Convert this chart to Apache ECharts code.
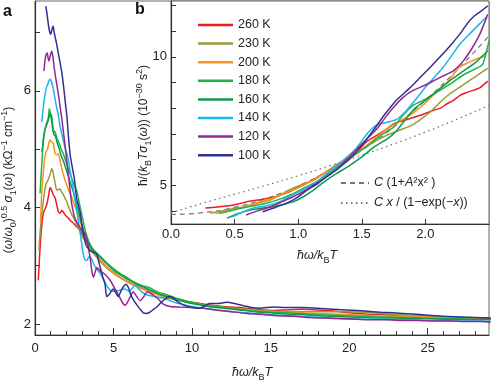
<!DOCTYPE html>
<html>
<head>
<meta charset="utf-8">
<script src="https://cdn.jsdelivr.net/npm/echarts@6/dist/echarts.min.js"></script>
<style>
  html, body { margin: 0; padding: 0; background: #fff; }
  #chart { width: 499px; height: 382px; }
</style>
</head>
<body>
<div id="chart"></div>
<script>
// legend names and colours
var temps = ["260 K", "230 K", "200 K", "180 K", "160 K", "140 K", "120 K", "100 K"];
var colors = ["#ed1c24", "#9c9a36", "#f7941d", "#22b24c", "#0f9a4a", "#1cb5ec", "#93278f", "#2e3192"];

// panel a : (w/w0)^0.5 sigma1 vs hw/kT
var a260 = [[0.21,2.75],[0.3,3.2],[0.4,3.6],[0.53,3.9],[0.65,3.98],[0.75,4.05],[0.85,4.18],[0.96,4.34],[1.05,4.3],[1.15,4.22],[1.27,4.17],[1.38,4.05],[1.48,3.93],[1.59,3.9],[1.7,3.95],[1.8,3.92],[1.95,3.86],[2.1,3.82],[2.23,3.78],[2.4,3.74],[2.6,3.68],[2.87,3.61],[3.1,3.5],[3.3,3.4],[3.5,3.32],[3.8,3.2],[4.1,3.1],[4.5,2.98],[5,2.87],[5.5,2.78],[6,2.71],[6.5,2.65],[7,2.59],[7.5,2.54],[8,2.5],[9,2.43],[10,2.37],[11,2.33],[12,2.3],[13,2.28],[14,2.25],[15,2.23],[16,2.24],[17,2.25],[18,2.24],[19,2.22],[20,2.19],[21,2.17],[22,2.16],[23,2.15],[24,2.14],[25,2.13],[26,2.12],[27,2.11],[28,2.1],[29,2.09]];
var a230 = [[0.25,3.26],[0.32,3.55],[0.4,3.8],[0.5,4.05],[0.6,4.25],[0.7,4.4],[0.8,4.45],[0.9,4.52],[1,4.6],[1.06,4.66],[1.15,4.6],[1.27,4.43],[1.38,4.3],[1.48,4.3],[1.59,4.32],[1.7,4.26],[1.8,4.22],[1.92,4.15],[2.02,4.1],[2.15,4],[2.3,3.9],[2.5,3.8],[2.7,3.68],[2.9,3.56],[3.1,3.46],[3.4,3.35],[3.7,3.22],[4,3.12],[4.5,2.98],[5,2.87],[5.5,2.78],[6,2.71],[6.5,2.64],[7,2.59],[7.5,2.54],[8,2.5],[9,2.42],[10,2.36],[11,2.32],[12,2.29],[13,2.26],[14,2.24],[15,2.22],[16,2.21],[17,2.21],[18,2.21],[19,2.21],[20,2.21],[21,2.2],[22,2.18],[23,2.16],[24,2.14],[25,2.13],[26,2.12],[27,2.11],[28,2.1],[29,2.1]];
var a200 = [[0.35,3.75],[0.42,4.2],[0.5,4.5],[0.6,4.8],[0.7,4.95],[0.8,5],[0.9,5.12],[0.96,5.16],[1.05,5.12],[1.17,5.09],[1.27,4.93],[1.38,4.9],[1.49,4.92],[1.6,4.8],[1.7,4.67],[1.85,4.52],[2.02,4.38],[2.18,4.27],[2.33,4.18],[2.5,4.05],[2.65,3.95],[2.85,3.78],[3.05,3.6],[3.3,3.45],[3.6,3.3],[4,3.15],[4.5,3],[5,2.88],[5.5,2.78],[6,2.7],[6.5,2.64],[7,2.58],[7.5,2.53],[8,2.48],[9,2.41],[10,2.36],[11,2.31],[12,2.28],[13,2.26],[14,2.23],[15,2.21],[16,2.2],[17,2.19],[18,2.18],[19,2.17],[20,2.16],[21,2.15],[22,2.14],[23,2.13],[24,2.13],[25,2.12],[26,2.11],[27,2.11],[28,2.1],[29,2.1]];
var a180 = [[0.32,4.24],[0.4,4.6],[0.53,5.15],[0.65,5.35],[0.75,5.45],[0.85,5.54],[0.91,5.69],[0.98,5.62],[1.06,5.57],[1.17,5.32],[1.27,5.3],[1.38,5.2],[1.5,5.12],[1.6,5.05],[1.7,4.98],[1.8,4.92],[1.95,4.8],[2.1,4.68],[2.23,4.58],[2.4,4.45],[2.55,4.35],[2.65,4.29],[2.8,4.1],[3,3.85],[3.2,3.6],[3.45,3.4],[3.7,3.28],[4,3.2],[4.3,3.12],[4.6,3.04],[5,2.95],[5.5,2.85],[5.85,2.8],[6.3,2.72],[6.8,2.66],[7.3,2.62],[7.8,2.55],[8.4,2.5],[9,2.44],[10,2.37],[11,2.32],[12,2.28],[13,2.25],[14,2.22],[15,2.2],[16,2.19],[17,2.18],[18,2.16],[19,2.15],[20,2.14],[21,2.13],[22,2.12],[23,2.11],[24,2.11],[25,2.1],[26,2.09],[27,2.09],[28,2.08],[29,2.08]];
var a160 = [[0.45,4.95],[0.55,5.2],[0.65,5.35],[0.75,5.42],[0.85,5.5],[0.95,5.6],[1.02,5.55],[1.1,5.4],[1.2,5.25],[1.3,5.22],[1.42,5.1],[1.55,5],[1.65,4.9],[1.8,4.8],[1.95,4.68],[2.1,4.55],[2.25,4.42],[2.4,4.3],[2.55,4.15],[2.7,4],[2.9,3.8],[3.1,3.6],[3.35,3.42],[3.6,3.3],[3.9,3.2],[4.14,3.15],[4.5,3.05],[5,2.92],[5.5,2.83],[6,2.75],[6.5,2.68],[7,2.62],[7.5,2.56],[8,2.5],[9,2.42],[10,2.35],[11,2.3],[12,2.27],[13,2.24],[14,2.21],[15,2.19],[16,2.17],[17,2.16],[18,2.14],[19,2.13],[20,2.12],[21,2.11],[22,2.1],[23,2.1],[24,2.09],[25,2.09],[26,2.08],[27,2.08],[28,2.07],[29,2.07]];
var a140 = [[0.43,5.46],[0.52,5.7],[0.62,5.9],[0.72,6.05],[0.82,6.12],[0.9,6.18],[0.96,6.2],[1.05,6.15],[1.15,6.05],[1.25,5.9],[1.35,5.75],[1.47,5.6],[1.58,5.42],[1.7,5.26],[1.8,5.15],[1.92,5.02],[2.02,4.93],[2.1,4.85],[2.22,4.65],[2.35,4.46],[2.5,4.2],[2.65,3.95],[2.8,3.7],[2.95,3.42],[3.06,3.21],[3.18,3.1],[3.3,3.09],[3.42,3.15],[3.55,3.14],[3.75,3.02],[3.95,2.93],[4.14,2.87],[4.4,2.74],[4.6,2.64],[4.78,2.58],[5.1,2.56],[5.4,2.58],[5.7,2.6],[6,2.56],[6.2,2.62],[6.4,2.66],[6.6,2.6],[6.8,2.55],[7.1,2.5],[7.6,2.47],[8.2,2.44],[9,2.36],[10,2.3],[11,2.26],[12,2.22],[13,2.2],[14,2.18],[15,2.16],[16,2.14],[17,2.13],[18,2.11],[19,2.1],[20,2.09],[21,2.08],[22,2.08],[23,2.07],[24,2.07],[25,2.06],[26,2.06],[27,2.05],[28,2.05],[29,2.04]];
var a120 = [[0.57,6.34],[0.65,6.55],[0.72,6.63],[0.78,6.65],[0.84,6.55],[0.89,6.51],[0.97,6.6],[1.06,6.68],[1.13,6.6],[1.22,6.4],[1.3,6.25],[1.38,6.12],[1.5,5.92],[1.6,5.72],[1.7,5.54],[1.85,5.2],[2.02,4.8],[2.15,4.5],[2.33,4.07],[2.5,3.85],[2.65,3.75],[2.8,3.68],[3,3.6],[3.18,3.55],[3.35,3.38],[3.5,3.15],[3.62,2.9],[3.72,2.8],[3.82,2.88],[3.93,2.97],[4.1,2.92],[4.3,2.88],[4.5,2.84],[4.78,2.75],[5,2.65],[5.2,2.55],[5.4,2.45],[5.6,2.35],[5.75,2.32],[5.9,2.38],[6.05,2.46],[6.25,2.55],[6.45,2.48],[6.7,2.4],[6.95,2.48],[7.15,2.55],[7.5,2.5],[7.8,2.44],[8.17,2.34],[8.6,2.3],[9.24,2.29],[10,2.28],[10.7,2.27],[11.5,2.24],[12.5,2.21],[13.5,2.18],[14.5,2.16],[15.5,2.14],[16.5,2.13],[17.5,2.11],[18.5,2.1],[19.5,2.09],[20.5,2.08],[21.5,2.07],[22.5,2.07],[23.5,2.06],[24.5,2.06],[25.5,2.05],[26.5,2.05],[27.5,2.04],[28.5,2.04],[29,2.03]];
var a100 = [[0.68,7.45],[0.75,7.35],[0.82,7.2],[0.9,7.05],[1,6.97],[1.08,7.05],[1.15,7.11],[1.22,7],[1.3,6.9],[1.38,6.8],[1.5,6.62],[1.62,6.45],[1.72,6.29],[1.85,6],[1.95,5.75],[2.04,5.54],[2.12,5.25],[2.23,4.92],[2.35,4.72],[2.5,4.5],[2.65,4.15],[2.75,4.05],[2.87,3.92],[2.97,3.72],[3.08,3.55],[3.25,3.35],[3.5,3.26],[3.7,3.23],[3.93,3.2],[4.05,3.08],[4.14,2.98],[4.3,2.82],[4.46,2.68],[4.56,2.47],[4.7,2.5],[4.85,2.56],[4.97,2.6],[5.15,2.53],[5.3,2.47],[5.45,2.55],[5.6,2.63],[5.8,2.68],[5.95,2.62],[6.1,2.5],[6.25,2.42],[6.45,2.34],[6.7,2.25],[6.9,2.19],[7.1,2.18],[7.3,2.2],[7.5,2.24],[7.75,2.29],[8,2.36],[8.2,2.41],[8.45,2.46],[8.65,2.47],[8.9,2.42],[9.2,2.36],[9.6,2.31],[10,2.28],[10.5,2.27],[10.8,2.31],[11.1,2.35],[11.6,2.35],[12.2,2.37],[12.7,2.35],[13.3,2.31],[13.8,2.28],[14.3,2.27],[15.2,2.29],[16,2.28],[17,2.28],[18,2.27],[19,2.25],[19.9,2.24],[21,2.22],[22,2.2],[22.8,2.19],[24,2.17],[25,2.15],[26,2.13],[27,2.12],[28,2.11],[29,2.1]];

// panel b : hbar/(kB T sigma1) vs hw/kT
var b260 = [[0.27,4.11],[0.35,4.14],[0.44,4.19],[0.52,4.26],[0.59,4.35],[0.68,4.42],[0.78,4.5],[0.85,4.6],[0.93,4.74],[1,4.92],[1.09,5.13],[1.15,5.3],[1.22,5.52],[1.3,5.75],[1.4,6.05],[1.48,6.4],[1.54,6.7],[1.62,6.95],[1.7,7.2],[1.75,7.39],[1.85,7.55],[1.96,7.72],[2.06,7.91],[2.12,8],[2.17,8.17],[2.22,8.3],[2.27,8.49],[2.32,8.6],[2.37,8.68],[2.43,8.8],[2.49,9.05]];
var b230 = [[0.31,3.91],[0.4,4],[0.5,4.1],[0.57,4.15],[0.68,4.3],[0.78,4.42],[0.87,4.65],[0.96,4.88],[1.04,5.05],[1.12,5.19],[1.2,5.45],[1.3,5.8],[1.4,6.1],[1.5,6.4],[1.6,6.7],[1.7,6.95],[1.8,7.15],[1.9,7.35],[1.96,7.55],[2.05,7.9],[2.12,8.25],[2.19,8.55],[2.25,8.75],[2.31,8.95],[2.37,9.15],[2.43,9.35],[2.49,9.55]];
var b200 = [[0.35,3.91],[0.42,3.95],[0.5,4.05],[0.6,4.2],[0.7,4.35],[0.8,4.5],[0.9,4.7],[1,4.9],[1.1,5.15],[1.2,5.45],[1.3,5.75],[1.4,6.05],[1.5,6.4],[1.6,6.8],[1.7,7.2],[1.8,7.5],[1.9,7.8],[2,8.2],[2.1,8.7],[2.17,9],[2.27,9.6],[2.35,9.8],[2.42,9.95],[2.48,10.05]];
var b180 = [[0.38,3.91],[0.46,4],[0.55,4.1],[0.65,4.2],[0.75,4.3],[0.85,4.45],[0.95,4.65],[1.05,4.9],[1.15,5.15],[1.25,5.5],[1.35,5.85],[1.45,6.2],[1.55,6.55],[1.65,6.95],[1.75,7.26],[1.82,7.7],[1.9,8.1],[2,8.35],[2.1,8.65],[2.2,8.95],[2.3,9.3],[2.4,9.55],[2.45,9.7],[2.5,10.62]];
var b160 = [[0.44,3.72],[0.53,3.9],[0.62,4.03],[0.71,4.1],[0.8,4.16],[0.88,4.25],[0.96,4.35],[1.04,4.55],[1.12,4.81],[1.22,5.19],[1.3,5.45],[1.4,5.75],[1.5,6.1],[1.6,6.5],[1.7,6.8],[1.77,7.1],[1.85,7.6],[1.92,8],[2,8.3],[2.1,8.7],[2.2,9.1],[2.3,9.45],[2.4,9.8],[2.49,10.23]];
var b140 = [[0.48,3.77],[0.56,3.95],[0.65,4.11],[0.75,4.2],[0.85,4.35],[0.95,4.6],[1.05,4.85],[1.15,5.15],[1.25,5.55],[1.35,5.95],[1.45,6.4],[1.55,7.05],[1.62,7.35],[1.7,7.45],[1.77,7.55],[1.85,7.9],[1.95,8.5],[2,8.81],[2.07,9.2],[2.14,9.59],[2.2,10],[2.27,10.49],[2.35,10.9],[2.42,11.25],[2.48,11.55]];
var b120 = [[0.59,3.84],[0.68,4],[0.78,4.16],[0.87,4.35],[0.96,4.55],[1.04,4.75],[1.12,5],[1.2,5.25],[1.3,5.6],[1.4,6.1],[1.5,6.6],[1.56,6.9],[1.62,7.2],[1.68,7.6],[1.75,8.03],[1.82,8.4],[1.9,8.68],[2,8.9],[2.09,9.13],[2.16,9.3],[2.22,9.45],[2.3,9.85],[2.37,10.36],[2.43,10.9],[2.49,11.65]];
var b100 = [[0.72,3.97],[0.8,4.1],[0.91,4.3],[1,4.55],[1.07,4.81],[1.15,5.05],[1.22,5.32],[1.3,5.6],[1.4,6],[1.5,6.55],[1.6,7.2],[1.68,7.75],[1.77,8.3],[1.87,8.75],[1.96,9.2],[2.04,9.6],[2.11,9.97],[2.19,10.4],[2.27,10.88],[2.33,11.3],[2.37,11.52],[2.43,11.75],[2.49,11.98]];

// fit curves
var fitX = [0, 0.25, 0.5, 0.75, 1, 1.25, 1.5, 1.75, 2, 2.25, 2.5];
var fitDashed = [3.86, 3.93, 4.14, 4.49, 4.97, 5.6, 6.36, 7.26, 8.31, 9.49, 10.81];
var fitDotted = [3.93, 4.3, 4.65, 5.0, 5.37, 5.76, 6.17, 6.6, 7.07, 7.57, 8.1];
var fitNames = ["dash", "dot"];

// ticks
var aXMajor = [0, 5, 10, 15, 20, 25];
var aXMinor = [1,2,3,4,6,7,8,9,11,12,13,14,16,17,18,19,21,22,23,24,26,27,28];
var aYLabels = [2, 4, 6];
var aYTicks = [2, 3, 4, 5, 6, 7];
var bXLabels = [0, 0.5, 1, 1.5, 2];
var bYLabels = [5, 10];
var bYTicks = [4, 5, 6, 7, 8, 9, 10, 11, 12];

var aData = [a260, a230, a200, a180, a160, a140, a120, a100];
var bData = [b260, b230, b200, b180, b160, b140, b120, b100];

var FONT = "Liberation Sans, Arial, Helvetica, sans-serif";
var INK = "#222";
var AX = "#333";

function richSet(fs) {
  return {
    i: { fontStyle: "italic", fontSize: fs, lineHeight: 18, fontFamily: FONT, color: INK },
    sub: { fontSize: 9, verticalAlign: "bottom", fontFamily: FONT, color: INK },
    sup: { fontSize: 9, verticalAlign: "top", fontFamily: FONT, color: INK }
  };
}

var chart = echarts.init(document.getElementById("chart"));

var series = [];
// fits under data
series.push({
  name: fitNames[0], type: "line", xAxisIndex: 2, yAxisIndex: 1, z: 1,
  symbol: "none", color: "#777", smooth: true,
  lineStyle: { width: 1.2, type: [5, 4], color: "#777" },
  data: fitX.map(function (x, i) { return [x, fitDashed[i]]; })
});
series.push({
  name: fitNames[1], type: "line", xAxisIndex: 2, yAxisIndex: 1, z: 1,
  symbol: "none", color: "#777", smooth: true,
  lineStyle: { width: 1.3, type: [1.5, 3.5], color: "#777" },
  data: fitX.map(function (x, i) { return [x, fitDotted[i]]; })
});
for (var k = 0; k < temps.length; k++) {
  series.push({
    name: temps[k], type: "line", xAxisIndex: 0, yAxisIndex: 0,
    symbol: "none", color: colors[k], smooth: 0.2,
    lineStyle: { width: 1.5, color: colors[k] },
    data: aData[k]
  });
  series.push({
    name: temps[k], type: "line", xAxisIndex: 2, yAxisIndex: 1,
    symbol: "none", color: colors[k], smooth: 0.2,
    lineStyle: { width: 1.5, color: colors[k] },
    data: bData[k]
  });
}

chart.setOption({
  animation: false,
  backgroundColor: "#fff",
  textStyle: { fontFamily: FONT },
  grid: [
    { left: 35, right: 10, top: 1, bottom: 47, show: true, borderColor: "#666", borderWidth: 1,
      backgroundColor: "transparent", containLabel: false, outerBoundsMode: "none" },
    { left: 171, right: 10, top: 1, bottom: 158, show: true, borderColor: "#666", borderWidth: 1,
      backgroundColor: "#fff", containLabel: false, outerBoundsMode: "none" }
  ],
  xAxis: [
    {
      gridIndex: 0, type: "value", min: 0, max: 28.9, position: "bottom",
      axisLine: { show: true, lineStyle: { color: AX, width: 1.2 } },
      axisTick: { show: true, inside: true, length: 7, customValues: aXMajor, lineStyle: { color: AX } },
      axisLabel: { customValues: aXMajor, fontSize: 13, color: INK, margin: 7 },
      splitLine: { show: false },
      name: "{i|ħω/k}{sub|B}{i|T}", nameLocation: "middle", nameGap: 29, nameMoveOverlap: false,
      nameTextStyle: { fontSize: 12.5, lineHeight: 18, color: INK, padding: [0, 20, 0, 0], rich: richSet(12.5) }
    },
    {
      gridIndex: 0, type: "value", min: 0, max: 28.9, position: "bottom",
      axisLine: { show: false },
      axisTick: { show: true, inside: true, length: 4, customValues: aXMinor, lineStyle: { color: AX } },
      axisLabel: { show: false },
      splitLine: { show: false }
    },
    {
      gridIndex: 1, type: "value", min: 0, max: 2.5, position: "bottom",
      axisLine: { show: true, lineStyle: { color: AX, width: 1.2 } },
      axisTick: { show: true, inside: true, length: 5, customValues: bXLabels, lineStyle: { color: AX } },
      axisLabel: { customValues: bXLabels, fontSize: 13, color: INK, margin: 4,
        formatter: function (v) { return v.toFixed(1); } },
      splitLine: { show: false },
      name: "{i|ħω/k}{sub|B}{i|T}", nameLocation: "middle", nameGap: 23, nameMoveOverlap: false,
      nameTextStyle: { fontSize: 12.5, lineHeight: 18, color: INK, padding: [0, 26, 0, 0], rich: richSet(12.5) }
    }
  ],
  yAxis: [
    {
      gridIndex: 0, type: "value", min: 1.81, max: 7.54,
      axisLine: { show: true, lineStyle: { color: AX, width: 1.2 } },
      axisTick: { show: true, inside: true, length: 5, customValues: aYTicks, lineStyle: { color: AX } },
      axisLabel: { customValues: aYLabels, fontSize: 13, color: INK, margin: 4 },
      splitLine: { show: false },
      name: "({i|ω}/{i|ω}{sub|0}){sup|0.5} {i|σ}{sub|1}({i|ω}) (kΩ{sup|−1} cm{sup|−1})",
      nameLocation: "middle", nameGap: 17, nameMoveOverlap: false,
      nameTextStyle: { fontSize: 12, lineHeight: 18, color: INK, padding: [0, 24, 0, 0], rich: richSet(12) }
    },
    {
      gridIndex: 1, type: "value", min: 3.49, max: 12.17,
      axisLine: { show: true, lineStyle: { color: AX, width: 1.2 } },
      axisTick: { show: true, inside: true, length: 5, customValues: bYTicks, lineStyle: { color: AX } },
      axisLabel: { customValues: bYLabels, fontSize: 13, color: INK, margin: 4 },
      splitLine: { show: false },
      name: "ħ/({i|k}{sub|B}{i|T}{i|σ}{sub|1}({i|ω})) (10{sup|−30} s{sup|2})",
      nameLocation: "middle", nameGap: 18, nameMoveOverlap: false,
      nameTextStyle: { fontSize: 12, lineHeight: 18, color: INK, padding: [0, 26, 0, 0], rich: richSet(12) }
    }
  ],
  legend: [
    {
      data: temps, orient: "vertical", left: 198, top: 18, padding: 0,
      icon: "rect", itemWidth: 35, itemHeight: 2.5, itemGap: 4.6,
      textStyle: { fontSize: 12.5, color: INK, lineHeight: 14 },
      selectedMode: false
    },
    {
      data: fitNames, orient: "vertical", left: 340, top: 176, padding: 0,
      itemWidth: 28, itemHeight: 14, itemGap: 6, selectedMode: false,
      itemStyle: { opacity: 0 },
      formatter: function (n) {
        return n === "dash" ? "{i|C} (1+{i|A}²x² )" : "{i|C x} / (1−exp(−{i|x}))";
      },
      textStyle: { fontSize: 12.5, color: INK, lineHeight: 14, rich: {
        i: { fontStyle: "italic", fontSize: 12.5, fontFamily: FONT, color: INK, lineHeight: 14 }
      } }
    }
  ],
  graphic: [
    { type: "text", left: 3, top: 4, style: { text: "a", font: "bold 16px " + FONT, fill: "#111" } },
    { type: "text", left: 135, top: 2, style: { text: "b", font: "bold 16px " + FONT, fill: "#111" } }
  ],
  series: series
});
</script>
</body>
</html>
